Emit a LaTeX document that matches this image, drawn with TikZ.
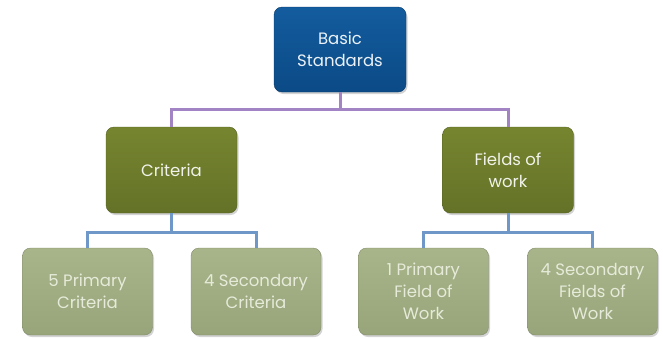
\documentclass[tikz,border=0pt]{standalone}
\usepackage{fontspec}
\setmainfont{Poppins}
\usetikzlibrary{shadows}
\definecolor{topblue}{HTML}{135C9E}
\definecolor{topblueD}{HTML}{0B4A86}
\definecolor{olive}{HTML}{76852F}
\definecolor{oliveD}{HTML}{647228}
\definecolor{sage}{HTML}{A8B48A}
\definecolor{sageD}{HTML}{98A57B}
\definecolor{sagetext}{HTML}{E6EBD9}
\definecolor{lnpurple}{HTML}{A283C4}
\definecolor{lnblue}{HTML}{6F98C8}
\tikzset{
  boxbase/.style={rounded corners=8pt, align=center, font=\fontsize{16.5}{22}\selectfont,
    inner sep=2pt, drop shadow={shadow xshift=1.5pt, shadow yshift=-2pt, opacity=0.35}},
  topbox/.style={boxbase, top color=topblue, bottom color=topblueD, draw=topblueD!80!black, text=white!92!topblue,
    minimum width=132pt, minimum height=85pt},
  midbox/.style={boxbase, top color=olive, bottom color=oliveD, draw=oliveD!85!black, text=white!90!olive,
    minimum width=131pt, minimum height=86pt},
  leafbox/.style={boxbase, top color=sage, bottom color=sageD, draw=sageD!85!black, text=sagetext,
    minimum width=130pt, minimum height=87pt},
  purpleln/.style={draw=lnpurple, line width=3pt},
  blueln/.style={draw=lnblue, line width=3pt}
}
\begin{document}
\begin{tikzpicture}[x=1pt,y=-1pt]
\useasboundingbox (0,0) rectangle (663,338);
\coordinate (pj) at (340,109);
\coordinate (bj) at (0,232);
\node[topbox] (top) at (340,49.5) {Basic\\Standards};
\node[midbox] (crit) at (171.5,170) {Criteria};
\node[midbox] (fow) at (508,170) {Fields of\\work};
\node[leafbox] (c1) at (87.5,291.5) {5 Primary\\Criteria};
\node[leafbox] (c2) at (256,291.5) {4 Secondary\\Criteria};
\node[leafbox] (f1) at (423.5,291.5) {1 Primary\\Field of\\Work};
\node[leafbox] (f2) at (592.5,291.5) {4 Secondary\\Fields of\\Work};
\draw[purpleln] (top.south) -- (top.south |- pj) -| (crit.north);
\draw[purpleln] (top.south |- pj) -| (fow.north);
\draw[blueln] (crit.south) -- (crit.south |- bj) -| (c1.north);
\draw[blueln] (crit.south |- bj) -| (c2.north);
\draw[blueln] (fow.south) -- (fow.south |- bj) -| (f1.north);
\draw[blueln] (fow.south |- bj) -| (f2.north);
\end{tikzpicture}
\end{document}
